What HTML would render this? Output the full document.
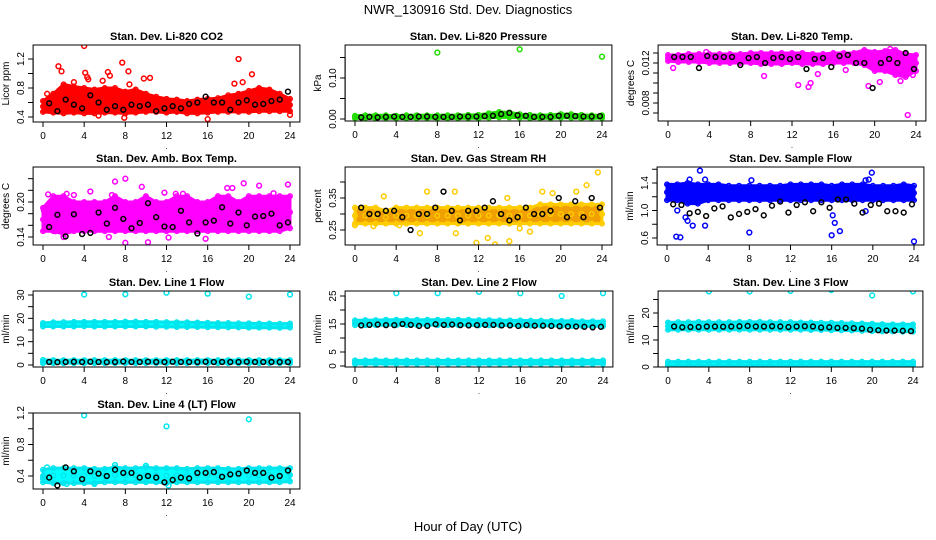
<!DOCTYPE html>
<html><head><meta charset="utf-8"><style>
html,body{margin:0;padding:0;background:#fff;}
svg{display:block;font-family:"Liberation Sans",Arial,sans-serif;}
</style></head><body>
<svg id="chart" width="936" height="540" viewBox="0 0 936 540" xmlns="http://www.w3.org/2000/svg">
<rect x="0" y="0" width="936" height="540" fill="#fff"/>
<text x="468" y="14" text-anchor="middle" font-size="13">NWR_130916  Std. Dev. Diagnostics</text>
<text x="468" y="531" text-anchor="middle" font-size="13">Hour of Day (UTC)</text>
</svg>
<script>
const bandHours = [0,1,2,3,4,5,6,7,8,9,10,11,12,13,14,15,16,17,18,19,20,21,22,23,24];
const blackHours = [0.6,1.4,2.2,3.0,3.8,4.6,5.4,6.2,7.0,7.8,8.6,9.4,10.2,11.0,11.8,12.6,13.4,14.2,15.0,15.8,16.6,17.4,18.2,19.0,19.8,20.6,21.4,22.2,23.0,23.8];
const xTicks = [0,4,8,12,16,20,24];

// Panel 1: CO2
const co2Lo = [0.47,0.46,0.45,0.46,0.45,0.45,0.46,0.46,0.45,0.46,0.47,0.47,0.46,0.47,0.45,0.45,0.46,0.47,0.47,0.47,0.47,0.48,0.48,0.48,0.48];
const co2Hi = [0.62,0.72,0.85,0.82,0.8,0.78,0.8,0.8,0.75,0.78,0.72,0.68,0.65,0.64,0.62,0.64,0.65,0.66,0.7,0.72,0.76,0.8,0.78,0.72,0.65];
const co2OutH = [4,1.5,1.8,4.1,4.3,4.4,6.3,6.5,7.7,8.3,8.4,9.8,10.4,19,18.6,19.4,20.3,16,24,5.4,0.4,7.9,5.8,3];
const co2OutV = [1.38,1.1,1.03,1.01,0.95,0.92,1.02,0.97,1.15,1.03,0.85,0.93,0.94,1.2,0.86,0.88,0.99,0.37,0.43,0.42,0.72,0.39,0.9,0.88];
const co2Black = [0.59,0.48,0.64,0.57,0.52,0.7,0.6,0.5,0.55,0.5,0.57,0.55,0.57,0.48,0.52,0.55,0.52,0.58,0.6,0.68,0.6,0.6,0.5,0.6,0.63,0.57,0.58,0.62,0.64,0.75];

// Panel 2: Pressure
const prLo = [0.002,0.002,0.002,0.002,0.002,0.002,0.002,0.002,0.002,0.002,0.002,0.002,0.002,0.003,0.004,0.004,0.003,0.002,0.002,0.002,0.003,0.003,0.002,0.002,0.002];
const prHi = [0.008,0.009,0.009,0.009,0.008,0.009,0.009,0.009,0.009,0.009,0.009,0.01,0.01,0.014,0.017,0.016,0.012,0.01,0.009,0.01,0.012,0.012,0.01,0.009,0.009];
const prOutH = [8,16,24];
const prOutV = [0.162,0.17,0.152];
const prBlack = [0.004,0.005,0.004,0.005,0.006,0.005,0.005,0.006,0.006,0.005,0.005,0.005,0.006,0.006,0.006,0.007,0.008,0.012,0.015,0.009,0.008,0.005,0.005,0.005,0.008,0.008,0.007,0.006,0.006,0.007];

// Panel 3: Li-820 Temp
const ltLo = [0.0122,0.0121,0.0121,0.0121,0.012,0.012,0.012,0.012,0.012,0.0119,0.0119,0.0119,0.012,0.0119,0.0119,0.0119,0.012,0.012,0.012,0.0118,0.0112,0.0112,0.0108,0.0106,0.0112];
const ltHi = [0.0128,0.0128,0.0129,0.0129,0.0129,0.0129,0.0129,0.0129,0.013,0.013,0.013,0.013,0.013,0.013,0.0129,0.0129,0.013,0.013,0.013,0.0133,0.0131,0.0132,0.0133,0.0129,0.0128];
const ltOutH = [23.2,12.6,13.6,13.8,9.3,0.5,3.7,19.4,21.5,20.5,22.5,17.2,14.5,23.7];
const ltOutV = [0.0068,0.0098,0.0096,0.01,0.0107,0.0115,0.0131,0.0097,0.0134,0.0101,0.0102,0.0113,0.0109,0.0108];
const ltBlack = [0.0126,0.0126,0.0126,0.0115,0.0127,0.0126,0.0126,0.0126,0.0118,0.0125,0.0126,0.0120,0.0125,0.0126,0.0124,0.0126,0.0114,0.0124,0.0125,0.0116,0.0127,0.0128,0.0120,0.0120,0.0095,0.0120,0.0124,0.0120,0.0130,0.0114];

// Panel 4: Amb Box Temp
const abLo = [0.15,0.15,0.145,0.15,0.15,0.15,0.15,0.15,0.15,0.15,0.15,0.15,0.15,0.15,0.15,0.15,0.15,0.15,0.15,0.15,0.15,0.15,0.15,0.15,0.155];
const abHi = [0.19,0.21,0.21,0.2,0.2,0.2,0.2,0.21,0.2,0.2,0.21,0.2,0.2,0.21,0.21,0.2,0.2,0.21,0.21,0.2,0.21,0.21,0.21,0.21,0.21];
const abOutH = [7,8,9.6,19.5,23.8,21,0.5,2.3,3,4.6,6.7,11.8,12.9,13.6,17.9,18.4,8,10.2,2,15.8,1.2,6.4,12.2,22.4,0.1];
const abOutV = [0.235,0.24,0.226,0.232,0.23,0.228,0.213,0.214,0.212,0.218,0.212,0.216,0.214,0.214,0.224,0.224,0.13,0.131,0.14,0.137,0.15,0.14,0.139,0.215,0.185];
const abBlack = [0.157,0.178,0.141,0.179,0.145,0.147,0.182,0.163,0.19,0.171,0.155,0.164,0.198,0.174,0.158,0.157,0.185,0.165,0.146,0.165,0.168,0.191,0.163,0.182,0.16,0.175,0.176,0.18,0.16,0.165];

// Panel 5: Gas Stream RH
const rhLo = [0.27,0.27,0.27,0.27,0.27,0.27,0.27,0.27,0.27,0.27,0.27,0.27,0.27,0.27,0.27,0.27,0.27,0.27,0.27,0.27,0.27,0.27,0.27,0.27,0.27];
const rhHi = [0.32,0.32,0.32,0.31,0.32,0.32,0.32,0.32,0.32,0.32,0.32,0.32,0.32,0.32,0.32,0.32,0.32,0.32,0.33,0.33,0.33,0.33,0.33,0.33,0.33];
const rhOutH = [23.6,7,9.7,2.8,16,13.6,15,11.8,12.9,22.5,21.5,18.2,19.2,0,1.8,4.3,6.3,9.8,17,14.8];
const rhOutV = [0.43,0.37,0.37,0.355,0.255,0.205,0.215,0.21,0.225,0.39,0.37,0.37,0.365,0.265,0.262,0.265,0.24,0.24,0.245,0.35];
const rhBlack = [0.32,0.30,0.30,0.31,0.31,0.29,0.25,0.30,0.30,0.32,0.37,0.31,0.28,0.31,0.31,0.32,0.34,0.30,0.28,0.29,0.32,0.30,0.30,0.31,0.35,0.29,0.34,0.29,0.35,0.32];

// Panel 6: Sample Flow
const sfLo = [1.15,1.15,1.1,1.1,1.15,1.15,1.15,1.15,1.15,1.15,1.15,1.15,1.15,1.15,1.15,1.15,1.15,1.15,1.15,1.15,1.15,1.15,1.15,1.15,1.15];
const sfHi = [1.38,1.38,1.4,1.38,1.38,1.38,1.36,1.36,1.36,1.36,1.36,1.36,1.38,1.38,1.38,1.38,1.36,1.38,1.38,1.38,1.36,1.36,1.36,1.38,1.36];
const sfOutH = [3.2,1.3,0.9,8,16,16.8,16.3,24,19.9,2.5,3.7,2,1.8,16.1,19.3,2.2,3.7,8.2,19.3,19.6,1];
const sfOutV = [1.58,0.61,0.62,0.68,0.64,0.7,0.82,0.55,1.55,0.78,0.78,0.85,0.9,0.93,0.99,1.45,1.45,1.44,1.44,1.45,1.0];
const sfBlack = [1.09,1.08,0.96,0.98,0.92,1.03,1.06,0.9,0.95,0.98,1.02,0.93,1.07,1.13,0.97,1.08,1.12,0.99,1.12,1.04,1.16,1.16,1.1,0.97,1.08,1.1,0.99,0.99,0.97,1.09];

// Panel 7: Line 1 Flow
const l1Lo = [16.5,16.5,16.5,16.5,16.6,16.5,16.5,16.5,16.5,16.5,16.5,16.4,16.4,16.3,16.3,16.3,16.2,16.2,16.1,16.1,16,16,16,15.9,16];
const l1Hi = [18,18.3,18.4,18.5,18.5,18.5,18.5,18.5,18.6,18.6,18.5,18.5,18.4,18.3,18.3,18.2,18.1,18,18,17.9,17.9,17.8,17.8,17.7,17.8];
const l1Lo2 = [0.8,0.8,0.8,0.8,0.8,0.8,0.8,0.8,0.8,0.8,0.8,0.8,0.8,0.8,0.8,0.8,0.8,0.8,0.8,0.8,0.8,0.8,0.8,0.8,0.8];
const l1Hi2 = [2.2,2.1,2.1,2.1,2.1,2.1,2.1,2.1,2.1,2.1,2.1,2.1,2.1,2.1,2.1,2.1,2.1,2.1,2.1,2.1,2.1,2.1,2.1,2.1,2.1];
const l1OutH = [4,8,12,16,20,24];
const l1OutV = [30.2,30.3,31,30.6,29.3,30.2];
const l1Black = [1.3,1.2,1.3,1.4,1.3,1.4,1.3,1.2,1.3,1.5,1.3,1.3,1.4,1.3,1.3,1.4,1.3,1.3,1.3,1.4,1.3,1.3,1.3,1.3,1.4,1.3,1.3,1.3,1.3,1.3];

// Panel 8: Line 2 Flow
const l2Lo = [14.6,14.6,14.6,14.6,14.6,14.6,14.6,14.6,14.6,14.6,14.6,14.5,14.5,14.5,14.5,14.5,14.4,14.4,14.4,14.3,14.3,14.3,14.2,14.2,14.2];
const l2Hi = [16.3,16.4,16.4,16.5,16.5,16.5,16.5,16.5,16.5,16.5,16.5,16.5,16.4,16.4,16.3,16.3,16.3,16.2,16.2,16.1,16.1,16.1,16,16,16];
const l2Lo2 = [0.7,0.7,0.7,0.7,0.7,0.7,0.7,0.7,0.7,0.7,0.7,0.7,0.7,0.7,0.7,0.7,0.7,0.7,0.7,0.7,0.7,0.7,0.7,0.7,0.7];
const l2Hi2 = [2.0,2.0,2.1,2.0,2.0,2.0,2.0,2.0,2.0,2.0,2.0,2.0,2.0,2.0,2.0,2.0,2.0,2.0,2.0,2.0,2.0,2.0,2.0,2.0,2.0];
const l2OutH = [4,8,12,16,20,24];
const l2OutV = [26,26,26.5,26,25,26];
const l2Black = [14.5,14.7,14.8,14.6,14.6,15,14.7,14.3,14.3,14.9,14.7,14.8,14.6,14.5,14.6,14.7,14.7,14.5,14.5,14.3,14.6,14.4,14.4,14.3,14.2,14.1,14.1,14,13.8,14];

// Panel 9: Line 3 Flow
const l3Lo = [13.8,13.8,13.8,13.8,13.8,13.8,13.8,13.8,13.8,13.8,13.8,13.8,13.8,13.8,13.7,13.7,13.6,13.6,13.5,13.4,13.3,13.2,13.2,13.1,13.1];
const l3Hi = [16.5,16.6,16.6,16.7,16.6,16.6,16.6,16.7,16.7,16.7,16.6,16.6,16.6,16.5,16.5,16.4,16.4,16.3,16.2,16.1,16,15.9,15.8,15.8,15.8];
const l3Lo2 = [0.6,0.6,0.6,0.6,0.6,0.6,0.6,0.6,0.6,0.6,0.6,0.6,0.6,0.6,0.6,0.6,0.6,0.6,0.6,0.6,0.6,0.6,0.6,0.6,0.6];
const l3Hi2 = [2.0,2.0,2.0,2.0,2.0,2.0,2.0,2.0,2.0,2.0,2.0,2.0,2.0,2.0,2.0,2.0,2.0,2.0,2.0,2.0,2.0,2.0,2.0,2.0,2.0];
const l3OutH = [4,8,12,16,20,24];
const l3OutV = [28,28,28.2,28.5,26.5,28];
const l3Black = [15,14.7,14.8,14.8,15,15,14.9,15,15.1,15.2,15,15,15.1,15,14.8,15,15.1,15,14.6,14.7,14.5,14.5,14.4,14.2,13.8,13.6,13.5,13.5,13.4,13.3];

// Panel 10: Line 4 (LT) Flow
const l4Lo = [0.32,0.31,0.31,0.31,0.31,0.31,0.32,0.32,0.32,0.32,0.32,0.32,0.31,0.32,0.32,0.32,0.32,0.32,0.32,0.32,0.32,0.32,0.32,0.32,0.33];
const l4Hi = [0.48,0.5,0.5,0.5,0.5,0.49,0.49,0.51,0.5,0.5,0.51,0.5,0.5,0.5,0.49,0.5,0.5,0.5,0.49,0.49,0.5,0.5,0.5,0.5,0.5];
const l4OutH = [4,12,20,7,10,0.4,2.3,5,12.2,0];
const l4OutV = [1.17,1.03,1.12,0.54,0.53,0.51,0.3,0.3,0.28,0.37];
const l4Black = [0.38,0.28,0.51,0.46,0.36,0.46,0.43,0.4,0.48,0.44,0.44,0.38,0.4,0.38,0.32,0.35,0.38,0.37,0.44,0.44,0.45,0.39,0.42,0.43,0.47,0.44,0.44,0.38,0.4,0.47];

// Y tick values and labels
const p1Ticks = [0.4,0.6,0.8,1.0,1.2];      const p1Labels = ["0.4","","0.8","","1.2"];
const p2Ticks = [0,0.05,0.10,0.15];         const p2Labels = ["0.00","","0.10",""];
const p3Ticks = [0.007,0.008,0.009,0.010,0.011,0.012,0.013]; const p3Labels = ["","0.008","","","","0.012",""];
const p4Ticks = [0.14,0.16,0.18,0.20,0.22,0.24]; const p4Labels = ["0.14","","","0.20","",""];
const p5Ticks = [0.25,0.30,0.35,0.40];      const p5Labels = ["0.25","","0.35",""];
const p6Ticks = [0.6,0.8,1.0,1.2,1.4,1.6];  const p6Labels = ["0.6","","1.0","","1.4",""];
const p7Ticks = [0,5,10,15,20,25,30];       const p7Labels = ["0","","10","","20","","30"];
const p8Ticks = [0,5,10,15,20,25];          const p8Labels = ["0","5","","15","","25"];
const p9Ticks = [0,5,10,15,20,25];          const p9Labels = ["0","","10","","20",""];
const p10Ticks = [0.4,0.6,0.8,1.0,1.2];     const p10Labels = ["0.4","","0.8","","1.2"];

const NS = "http://www.w3.org/2000/svg";
const svg = document.getElementById("chart");
function mk(tag, attrs, parent){ const e=document.createElementNS(NS,tag); for(const k in attrs) e.setAttribute(k,attrs[k]); (parent||svg).appendChild(e); return e; }

const panels = [
 {id:"co2", title:"Stan. Dev. Li-820 CO2", ylab:"Licor ppm", x0:43, x24:290, top:45, bot:122, v1:0.4,p1:117, v2:1.2,p2:59, ticks:p1Ticks, labels:p1Labels, lo:co2Lo, hi:co2Hi, oh:co2OutH, ov:co2OutV, blk:co2Black, color:"#ff0000", fill:"#ff0000"},
 {id:"pressure", title:"Stan. Dev. Li-820 Pressure", ylab:"kPa", x0:355, x24:602, top:45, bot:121, v1:0,p1:119, v2:0.1,p2:78, ticks:p2Ticks, labels:p2Labels, lo:prLo, hi:prHi, oh:prOutH, ov:prOutV, blk:prBlack, color:"#22dd00", fill:"#22dd00"},
 {id:"li-temp", title:"Stan. Dev. Li-820 Temp.", ylab:"degrees C", x0:668, x24:916, top:45, bot:121, v1:0.012,p1:63, v2:0.008,p2:103, ticks:p3Ticks, labels:p3Labels, lo:ltLo, hi:ltHi, oh:ltOutH, ov:ltOutV, blk:ltBlack, color:"#ff00ff", fill:"#ff00ff"},
 {id:"amb-temp", title:"Stan. Dev. Amb. Box Temp.", ylab:"degrees C", x0:43, x24:290, top:167, bot:245, v1:0.14,p1:237, v2:0.20,p2:202, ticks:p4Ticks, labels:p4Labels, lo:abLo, hi:abHi, oh:abOutH, ov:abOutV, blk:abBlack, color:"#ff00ff", fill:"#ff00ff"},
 {id:"gas-rh", title:"Stan. Dev. Gas Stream RH", ylab:"percent", x0:355, x24:602, top:167, bot:245, v1:0.25,p1:230, v2:0.35,p2:198, ticks:p5Ticks, labels:p5Labels, lo:rhLo, hi:rhHi, oh:rhOutH, ov:rhOutV, blk:rhBlack, color:"#ffcc00", fill:"#f0a000"},
 {id:"sample-flow", title:"Stan. Dev. Sample Flow", ylab:"ml/min", x0:667, x24:914, top:167, bot:245, v1:0.6,p1:238, v2:1.4,p2:183, ticks:p6Ticks, labels:p6Labels, lo:sfLo, hi:sfHi, oh:sfOutH, ov:sfOutV, blk:sfBlack, color:"#0000ff", fill:"#0000ff"},
 {id:"line1-flow", title:"Stan. Dev. Line 1 Flow", ylab:"ml/min", x0:43, x24:290, top:291, bot:367, v1:0,p1:365, v2:30,p2:295, ticks:p7Ticks, labels:p7Labels, lo:l1Lo, hi:l1Hi, lo2:l1Lo2, hi2:l1Hi2, oh:l1OutH, ov:l1OutV, blk:l1Black, color:"#00e5ee", fill:"#00ffff"},
 {id:"line2-flow", title:"Stan. Dev. Line 2 Flow", ylab:"ml/min", x0:355, x24:603, top:291, bot:367, v1:0,p1:366, v2:25,p2:296, ticks:p8Ticks, labels:p8Labels, lo:l2Lo, hi:l2Hi, lo2:l2Lo2, hi2:l2Hi2, oh:l2OutH, ov:l2OutV, blk:l2Black, color:"#00e5ee", fill:"#00ffff"},
 {id:"line3-flow", title:"Stan. Dev. Line 3 Flow", ylab:"ml/min", x0:668, x24:913, top:291, bot:367, v1:0,p1:367, v2:20,p2:313, ticks:p9Ticks, labels:p9Labels, lo:l3Lo, hi:l3Hi, lo2:l3Lo2, hi2:l3Hi2, oh:l3OutH, ov:l3OutV, blk:l3Black, color:"#00e5ee", fill:"#00ffff"},
 {id:"line4-flow", title:"Stan. Dev. Line 4 (LT) Flow", ylab:"ml/min", x0:43, x24:290, top:413, bot:489, v1:0.4,p1:476, v2:1.2,p2:413, ticks:p10Ticks, labels:p10Labels, lo:l4Lo, hi:l4Hi, oh:l4OutH, ov:l4OutV, blk:l4Black, color:"#00e5ee", fill:"#00ffff"}
];

panels.forEach(p => {
  const g = mk("g", {});
  
  
  const xs = h => p.x0 + (p.x24 - p.x0) * h / 24;
  const ys = v => p.p1 + (v - p.v1) * (p.p2 - p.p1) / (p.v2 - p.v1);
  const left = p.x0 - 9.9, right = p.x24 + 9.9;
  const clipId = "clip-" + p.id;
  const cp = mk("clipPath", {id:clipId}, g);
  mk("rect", {x:left, y:p.top, width:right-left, height:p.bot-p.top}, cp);
  const plot = mk("g", {"clip-path":"url(#"+clipId+")"}, g);
  
  

  function band(lo, hi, nm){
    let d = "";
    bandHours.forEach((h,i)=>{ d += (i?"L":"M") + xs(h).toFixed(1) + "," + ys(hi[i]).toFixed(1); });
    for(let i=bandHours.length-1;i>=0;i--){ d += "L" + xs(bandHours[i]).toFixed(1) + "," + ys(lo[i]).toFixed(1); }
    const b = mk("path", {d:d+"Z", fill:p.fill, stroke:p.color, "stroke-width":3, "stroke-linejoin":"round"}, plot);
    
    
    bandHours.forEach((h,i)=>{
      [lo[i],hi[i],(lo[i]+hi[i])/2].forEach(v=>{
        const c = mk("circle", {cx:xs(h), cy:ys(v), r:2.3, fill:"none", stroke:p.color, "stroke-width":1.4}, plot);
        
        
      });
    });
  }
  band(p.lo, p.hi, 'main-band');
  if (p.lo2) band(p.lo2, p.hi2, 'lower-band');

  p.oh.forEach((h,i)=>{
    const c = mk("circle", {cx:xs(h), cy:ys(p.ov[i]), r:2.4, fill:"none", stroke:p.color, "stroke-width":1.5}, plot);
    
    
  });
  blackHours.forEach((h,i)=>{
    const c = mk("circle", {cx:xs(h), cy:ys(p.blk[i]), r:2.4, fill:"none", stroke:"#000", "stroke-width":1.5}, plot);
    
    
  });

  const box = mk("rect", {x:left, y:p.top, width:right-left, height:p.bot-p.top, fill:"none", stroke:"#000", "stroke-width":1}, g);
  
  

  const t = mk("text", {x:(left+right)/2, y:p.top-5, "text-anchor":"middle", "font-size":11, "font-weight":"bold"}, g);
  t.textContent = p.title;
  
  

  const xa = mk("g", {}, g);
  
  
  mk("line", {x1:xs(0), x2:xs(24), y1:p.bot, y2:p.bot, stroke:"#000"}, xa);
  xTicks.forEach(h=>{
    mk("line", {x1:xs(h), x2:xs(h), y1:p.bot, y2:p.bot+5, stroke:"#000"}, xa);
    const tl = mk("text", {x:xs(h), y:p.bot+17, "text-anchor":"middle", "font-size":10}, xa);
    tl.textContent = h;
    
    
  });
  const dot = mk("text", {x:(left+right)/2, y:p.bot+27, "text-anchor":"middle", "font-size":8}, xa);
  dot.textContent = ".";

  const ya = mk("g", {}, g);
  
  
  const tv = p.ticks.filter(v => ys(v) >= p.top-1 && ys(v) <= p.bot+1);
  mk("line", {x1:left, x2:left, y1:ys(tv[0]), y2:ys(tv[tv.length-1]), stroke:"#000"}, ya);
  p.ticks.forEach((v,i)=>{
    const y = ys(v);
    if (y < p.top-1 || y > p.bot+1) return;
    mk("line", {x1:left-5, x2:left, y1:y, y2:y, stroke:"#000"}, ya);
    if (p.labels[i]) {
      const tl = mk("text", {x:left-9, y:y, "text-anchor":"middle", "font-size":10, transform:"rotate(-90 "+(left-9)+" "+y+")"}, ya);
      tl.textContent = p.labels[i];
      
      
    }
  });
  const yl = mk("text", {x:left-24, y:(p.top+p.bot)/2, "text-anchor":"middle", "font-size":10, transform:"rotate(-90 "+(left-24)+" "+((p.top+p.bot)/2)+")"}, ya);
  yl.textContent = p.ylab;
  
  
});
</script>
</body></html>
